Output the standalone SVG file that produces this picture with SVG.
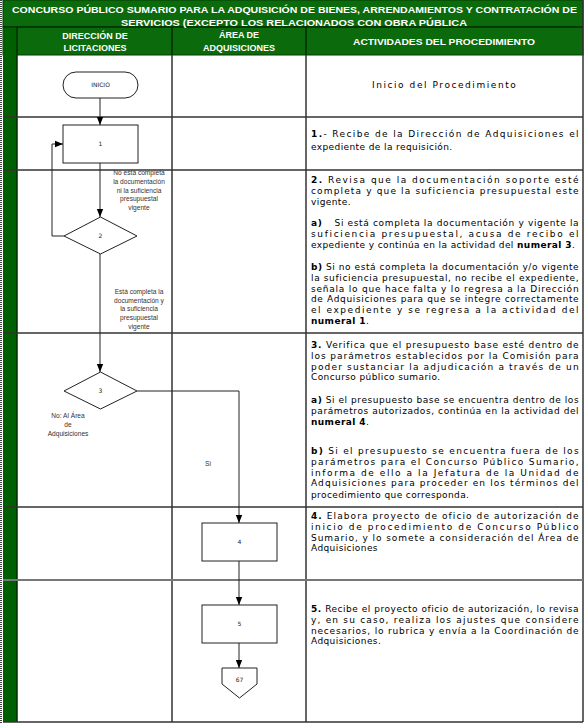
<svg xmlns="http://www.w3.org/2000/svg" width="586" height="724" viewBox="0 0 586 724">
<defs>
<style>
.hd{font-family:"Liberation Sans",Arial,sans-serif;font-weight:bold;font-size:9px;fill:#ffffff}
.t{font-family:"DejaVu Sans",Verdana,sans-serif;font-size:9px;letter-spacing:0.4px;fill:#000}
.b{font-weight:bold}
.lbl{font-family:"Liberation Sans",Arial,sans-serif;font-size:6.6px;fill:#333;text-anchor:middle}
.nl{font-family:"DejaVu Sans",Verdana,sans-serif;font-size:6px;fill:#222;text-anchor:middle}
.grid{stroke:#333;stroke-width:1.5;fill:none}
.shape{fill:#fff;stroke:#222;stroke-width:1}
.con{stroke:#222;stroke-width:1;fill:none}
</style>
<marker id="arr" viewBox="0 0 8 8" refX="8" refY="4" markerWidth="8" markerHeight="8" markerUnits="userSpaceOnUse" orient="auto">
<path d="M0,0.8 L8,4 L0,7.2 z" fill="#000"/>
</marker>
</defs>
<rect x="0" y="0" width="586" height="724" fill="#fff"/>
<!-- header -->
<g id="header">
<rect x="3" y="0" width="580" height="27" fill="#0b6a0b" stroke="#033d03" stroke-width="1"/>
<rect x="3" y="27" width="580" height="28" fill="#0b6a0b" stroke="#033d03" stroke-width="1"/>
<rect x="3" y="27" width="14" height="695" fill="#005f00"/>
<line x1="17" y1="27" x2="17" y2="722" stroke="#022a02" stroke-width="1.5"/>
<line x1="3" y1="27" x2="583" y2="27" stroke="#022a02" stroke-width="1.2"/>
<line x1="172" y1="27" x2="172" y2="55" stroke="#022a02" stroke-width="1.5"/>
<line x1="306" y1="27" x2="306" y2="55" stroke="#022a02" stroke-width="1.5"/>
<text class="hd" x="12" y="13" textLength="565" lengthAdjust="spacingAndGlyphs">CONCURSO PÚBLICO SUMARIO PARA LA ADQUISICIÓN DE BIENES, ARRENDAMIENTOS Y CONTRATACIÓN DE</text>
<text class="hd" x="294" y="25.5" text-anchor="middle" textLength="346" lengthAdjust="spacingAndGlyphs">SERVICIOS (EXCEPTO LOS RELACIONADOS CON OBRA PÚBLICA</text>
<text class="hd" x="95" y="39" text-anchor="middle">DIRECCIÓN DE</text>
<text class="hd" x="95" y="51" text-anchor="middle">LICITACIONES</text>
<text class="hd" x="239" y="38" text-anchor="middle">ÁREA DE</text>
<text class="hd" x="239" y="51" text-anchor="middle">ADQUISICIONES</text>
<text class="hd" x="444" y="45" text-anchor="middle" textLength="182" lengthAdjust="spacingAndGlyphs">ACTIVIDADES DEL PROCEDIMIENTO</text>
</g>
<!-- grid -->
<g id="grid">
<line x1="1" y1="0" x2="1" y2="724" stroke="#000" stroke-width="1.5" stroke-dasharray="1,1"/>
<line class="grid" x1="172" y1="55" x2="172" y2="722"/>
<line class="grid" x1="306" y1="55" x2="306" y2="722"/>
<line class="grid" x1="583" y1="0" x2="583" y2="722"/>
<line class="grid" x1="3" y1="117" x2="583" y2="117"/>
<line class="grid" x1="3" y1="170" x2="583" y2="170"/>
<line class="grid" x1="3" y1="333" x2="583" y2="333"/>
<line class="grid" x1="3" y1="507" x2="583" y2="507"/>
<line x1="3" y1="580" x2="583" y2="580" stroke="#777" stroke-width="2"/>
<line class="grid" x1="3" y1="722" x2="583" y2="722"/>
</g>
<!-- connectors -->
<g id="connectors">
<line class="con" x1="100" y1="98" x2="100" y2="125" marker-end="url(#arr)"/>
<line class="con" x1="100" y1="163" x2="100" y2="217" marker-end="url(#arr)"/>
<polyline class="con" points="64,236 52,236 52,144 63,144" marker-end="url(#arr)"/>
<line class="con" x1="100" y1="254" x2="100" y2="372" marker-end="url(#arr)"/>
<polyline class="con" points="137,391 239,391 239,523" marker-end="url(#arr)"/>
<line class="con" x1="239" y1="561" x2="239" y2="605" marker-end="url(#arr)"/>
<line class="con" x1="239" y1="643" x2="239" y2="668" marker-end="url(#arr)"/>
<g id="connector-labels">
<text class="lbl" x="139" y="175">No está completa</text>
<text class="lbl" x="139" y="184">la documentación</text>
<text class="lbl" x="139" y="193">ni la suficiencia</text>
<text class="lbl" x="139" y="201">presupuestal</text>
<text class="lbl" x="139" y="210">vigente</text>
<text class="lbl" x="139" y="294">Está completa la</text>
<text class="lbl" x="139" y="303">documentación y</text>
<text class="lbl" x="139" y="311">la suficiencia</text>
<text class="lbl" x="139" y="320">presupuestal</text>
<text class="lbl" x="139" y="329">vigente</text>
<text class="lbl" x="68" y="418">No: Al Área</text>
<text class="lbl" x="68" y="427">de</text>
<text class="lbl" x="68" y="436">Adquisiciones</text>
<text class="lbl" x="208" y="466">Si</text>
</g>
</g>
<!-- nodes -->
<g id="n-inicio">
<rect class="shape" x="63" y="72" width="75" height="26" rx="13" ry="13"/>
<text class="nl" x="100.5" y="87">INICIO</text>
</g>
<g id="n-1">
<rect class="shape" x="63" y="125" width="75" height="38"/>
<text class="nl" x="100.5" y="146">1</text>
</g>
<g id="n-2">
<polygon class="shape" points="100.5,217 137,236 100.5,254 64,236"/>
<text class="nl" x="100.5" y="238">2</text>
</g>
<g id="n-3">
<polygon class="shape" points="100.5,372 137,391 100.5,409 64,391"/>
<text class="nl" x="100.5" y="393">3</text>
</g>
<g id="n-4">
<rect class="shape" x="202" y="523" width="75" height="38"/>
<text class="nl" x="239.5" y="544">4</text>
</g>
<g id="n-5">
<rect class="shape" x="202" y="605" width="75" height="38"/>
<text class="nl" x="239.5" y="626">5</text>
</g>
<g id="n-67">
<polygon class="shape" points="222,668 257,668 257,684 239.5,698 222,684"/>
<text class="nl" x="239.5" y="682">67</text>
</g>
<!-- activity texts -->
<g id="activities">
<text class="t" x="444" y="88" text-anchor="middle" style="letter-spacing:0.2px" textLength="144" lengthAdjust="spacing">Inicio del Procedimiento</text>

<text class="t" x="311" y="137" textLength="268" lengthAdjust="spacing"><tspan class="b">1.</tspan>- Recibe de la Dirección de Adquisiciones el</text>
<text class="t" x="311" y="150">expediente de la requisición.</text>

<text class="t" x="311" y="183" textLength="268" lengthAdjust="spacing"><tspan class="b">2.</tspan> Revisa que la documentación soporte esté</text>
<text class="t" x="311" y="193.8" textLength="268" lengthAdjust="spacing">completa y que la suficiencia presupuestal este</text>
<text class="t" x="311" y="204.6">vigente.</text>
<text class="t" x="311" y="226" textLength="268" lengthAdjust="spacing"><tspan class="b">a)</tspan><tspan dx="12">Si está completa la documentación y vigente la</tspan></text>
<text class="t" x="311" y="236.8" textLength="268" lengthAdjust="spacing">suficiencia presupuestal, acusa de recibo el</text>
<text class="t" x="311" y="247.6">expediente y continúa en la actividad del <tspan class="b">numeral 3</tspan>.</text>
<text class="t" x="311" y="270" textLength="268" lengthAdjust="spacing"><tspan class="b">b)</tspan> Si no está completa la documentación y/o vigente</text>
<text class="t" x="311" y="280.8" textLength="268" lengthAdjust="spacing">la suficiencia presupuestal, no recibe el expediente,</text>
<text class="t" x="311" y="291.6" textLength="268" lengthAdjust="spacing">señala lo que hace falta y lo regresa a la Dirección</text>
<text class="t" x="311" y="302.4" textLength="268" lengthAdjust="spacing">de Adquisiciones para que se integre correctamente</text>
<text class="t" x="311" y="313.2" textLength="268" lengthAdjust="spacing">el expediente y se regresa a la actividad del</text>
<text class="t" x="311" y="324"><tspan class="b">numeral 1</tspan>.</text>

<text class="t" x="311" y="348" textLength="268" lengthAdjust="spacing"><tspan class="b">3.</tspan> Verifica que el presupuesto base esté dentro de</text>
<text class="t" x="311" y="358.8" textLength="268" lengthAdjust="spacing">los parámetros establecidos por la Comisión para</text>
<text class="t" x="311" y="369.6" textLength="268" lengthAdjust="spacing">poder sustanciar la adjudicación a través de un</text>
<text class="t" x="311" y="380.4">Concurso público sumario.</text>
<text class="t" x="311" y="403" textLength="268" lengthAdjust="spacing"><tspan class="b">a)</tspan> Si el presupuesto base se encuentra dentro de los</text>
<text class="t" x="311" y="413.8" textLength="268" lengthAdjust="spacing">parámetros autorizados, continúa en la actividad del</text>
<text class="t" x="311" y="424.6"><tspan class="b">numeral 4</tspan>.</text>
<text class="t" x="311" y="454" textLength="268" lengthAdjust="spacing"><tspan class="b">b)</tspan> Si el presupuesto se encuentra fuera de los</text>
<text class="t" x="311" y="464.8" textLength="268" lengthAdjust="spacing">parámetros para el Concurso Público Sumario,</text>
<text class="t" x="311" y="475.6" textLength="268" lengthAdjust="spacing">informa de ello a la Jefatura de la Unidad de</text>
<text class="t" x="311" y="486.4" textLength="268" lengthAdjust="spacing">Adquisiciones para proceder en los términos del</text>
<text class="t" x="311" y="498">procedimiento que corresponda.</text>

<text class="t" x="311" y="519" textLength="268" lengthAdjust="spacing"><tspan class="b">4.</tspan> Elabora proyecto de oficio de autorización de</text>
<text class="t" x="311" y="529.8" textLength="268" lengthAdjust="spacing">inicio de procedimiento de Concurso Público</text>
<text class="t" x="311" y="540.6" textLength="268" lengthAdjust="spacing">Sumario, y lo somete a consideración del Área de</text>
<text class="t" x="311" y="551.4">Adquisiciones</text>

<text class="t" x="311" y="612" textLength="268" lengthAdjust="spacing"><tspan class="b">5.</tspan> Recibe el proyecto oficio de autorización, lo revisa</text>
<text class="t" x="311" y="622.8" textLength="268" lengthAdjust="spacing">y, en su caso, realiza los ajustes que considere</text>
<text class="t" x="311" y="633.6" textLength="268" lengthAdjust="spacing">necesarios, lo rubrica y envía a la Coordinación de</text>
<text class="t" x="311" y="644.4">Adquisiciones.</text>
</g>
</svg>
